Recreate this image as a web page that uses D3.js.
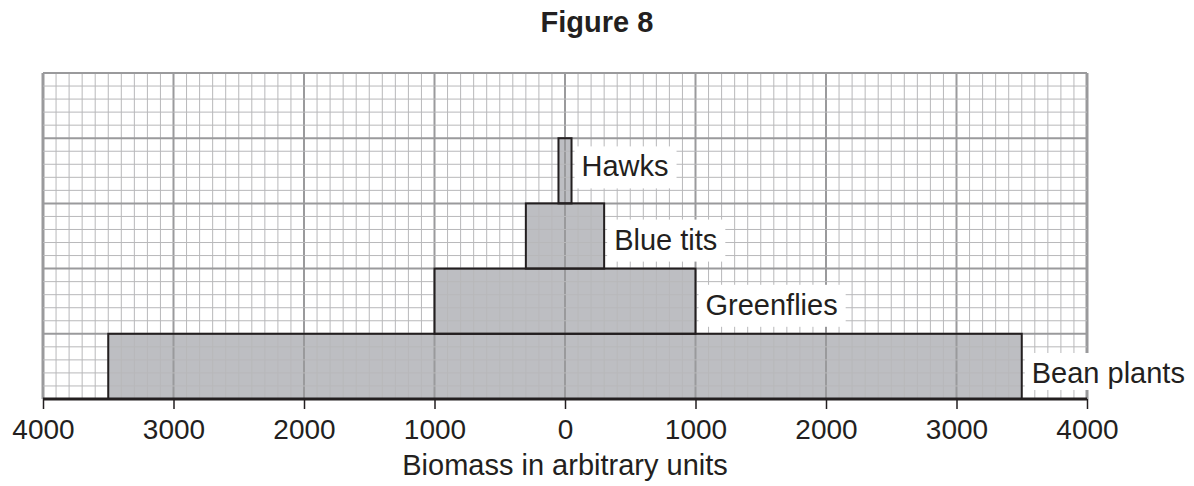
<!DOCTYPE html>
<html>
<head>
<meta charset="utf-8">
<script src="https://cdn.jsdelivr.net/npm/d3@7"></script>
<style>
  body { margin: 0; background: #fff; }
  text { font-family: "Liberation Sans", Arial, sans-serif; fill: #231f20; }
</style>
</head>
<body>
<svg id="chart" width="1194" height="486"></svg>
<script>
// trophic levels, bottom to top
const organisms = ["Bean plants", "Greenflies", "Blue tits", "Hawks"];
const biomass = [7000, 2000, 600, 100];
const tickValues = [-4000, -3000, -2000, -1000, 0, 1000, 2000, 3000, 4000];

const svg = d3.select("#chart");

const x = d3.scaleLinear().domain([-4000, 4000]).range([43, 1087]);
const y = d3.scaleLinear().domain([0, 5]).range([399, 73]);

const grid = svg.append("g");
const bars = svg.append("g");
const gridOver = svg.append("g");
const outlines = svg.append("g");
const labels = svg.append("g");

// minor grid
const minorX = d3.range(-4000, 4001, 100);
const minorY = d3.range(0, 5.01, 0.2);

function drawGrid(g) {
    g.selectAll(".vx")
        .data(minorX)
        .enter().append("line")
        .attr("x1", d => x(d)).attr("x2", d => x(d))
        .attr("y1", y(0)).attr("y2", y(5))
        .attr("stroke", d => d % 1000 === 0 ? "#9a9a9c" : "#b8b8ba")
        .attr("stroke-width", d => Math.abs(d) === 4000 ? 3 : (d % 1000 === 0 ? 2 : 1));

    g.selectAll(".hy")
        .data(minorY)
        .enter().append("line")
        .attr("x1", x(-4000)).attr("x2", x(4000))
        .attr("y1", d => y(d)).attr("y2", d => y(d))
        .attr("stroke", (d, i) => i % 5 === 0 ? "#9a9a9c" : "#b8b8ba")
        .attr("stroke-width", (d, i) => i % 5 === 0 ? 2 : 1);
}
drawGrid(grid);

// bars
const levels = organisms.map((name, i) => ({ name: name, value: biomass[i], level: i }));

bars.selectAll("rect")
    .data(levels)
    .enter().append("rect")
    .attr("x", d => x(-d.value / 2))
    .attr("width", d => x(d.value / 2) - x(-d.value / 2))
    .attr("y", d => y(d.level + 1))
    .attr("height", d => y(d.level) - y(d.level + 1))
    .attr("fill", "#bdbec2");

// grid shows through the bars
gridOver.selectAll("rect")
    .data(levels)
    .enter().append("clipPath")
    .attr("id", (d, i) => "clip" + i)
    .append("rect")
    .attr("x", d => x(-d.value / 2))
    .attr("width", d => x(d.value / 2) - x(-d.value / 2))
    .attr("y", d => y(d.level + 1))
    .attr("height", d => y(d.level) - y(d.level + 1));

levels.forEach((d, i) => {
    const g = gridOver.append("g").attr("clip-path", "url(#clip" + i + ")");
    drawGrid(g);
});

outlines.selectAll("rect")
    .data(levels)
    .enter().append("rect")
    .attr("x", d => x(-d.value / 2))
    .attr("width", d => x(d.value / 2) - x(-d.value / 2))
    .attr("y", d => y(d.level + 1))
    .attr("height", d => y(d.level) - y(d.level + 1))
    .attr("fill", "none")
    .attr("stroke", "#231f20")
    .attr("stroke-width", 2);

// labels with white boxes
const labelLift = [16, 19, 19, 27];
levels.forEach((d, i) => {
    const lx = x(d.value / 2) + 10;
    const ly = y(d.level) - labelLift[i];
    const t = labels.append("text")
        .attr("x", lx)
        .attr("y", ly)
        .style("font-size", "29px")
        .text(d.name);
    const w = t.node().getComputedTextLength();
    labels.insert("rect", "text")
        .attr("x", lx - 7)
        .attr("y", ly - 30)
        .attr("width", w + 15)
        .attr("height", i === 0 ? 37 : 42)
        .attr("fill", "#fff");
});

// axis
const axis = svg.append("g")
    .attr("transform", "translate(0," + y(0) + ")")
    .call(d3.axisBottom(x).tickValues(tickValues).tickSize(10).tickPadding(10)
        .tickFormat(d => Math.abs(d)));
axis.select(".domain")
    .attr("stroke", "#231f20")
    .attr("stroke-width", 3)
    .attr("d", "M" + x(-4000) + ",0H" + x(4000));
axis.selectAll(".tick line").attr("stroke", "#231f20").attr("stroke-width", 1.5);
axis.selectAll(".tick text")
    .attr("fill", "#231f20")
    .style("font-family", "Liberation Sans, Arial, sans-serif")
    .style("font-size", "28px");

svg.append("text")
    .attr("x", x(0))
    .attr("y", 475)
    .attr("text-anchor", "middle")
    .style("font-size", "29px")
    .text("Biomass in arbitrary units");

svg.append("text")
    .attr("x", 597)
    .attr("y", 32)
    .attr("text-anchor", "middle")
    .style("font-size", "29px")
    .style("font-weight", "bold")
    .text("Figure 8");
</script>
</body>
</html>
